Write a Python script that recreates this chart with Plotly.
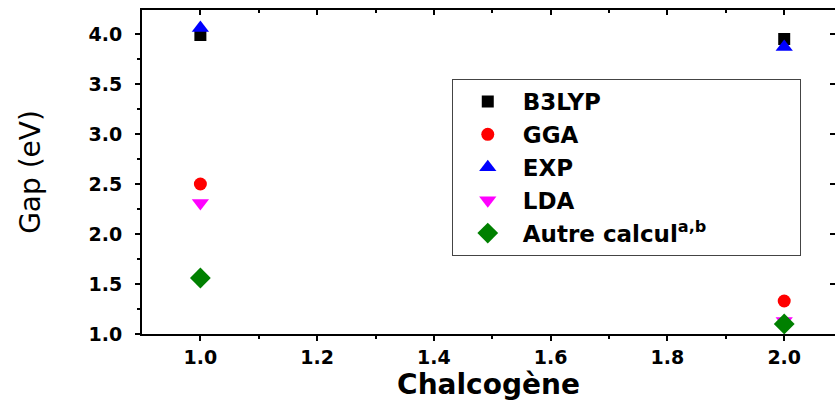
import plotly.graph_objects as go

chalcogene = [1.0, 2.0]
b3lyp = [3.99, 3.95]
gga = [2.50, 1.33]
exp = [4.06, 3.87]
lda = [2.31, 1.13]
autre = [1.56, 1.10]

series = [
    ("B3LYP", b3lyp, "square", "black", 12),
    ("GGA", gga, "circle", "red", 13),
    ("EXP", exp, "triangle-up", "blue", 15),
    ("LDA", lda, "triangle-down", "magenta", 15),
    ("Autre calcul<sup>a,b</sup>" + "&nbsp;" * 11, autre, "diamond", "rgb(0,128,0)", 16),
]

fig = go.Figure()
for name, vals, sym, col, sz in series:
    fig.add_trace(go.Scatter(
        x=chalcogene, y=vals, mode="markers", name=name,
        marker=dict(symbol=sym, color=col, size=sz, line=dict(width=0)),
    ))

# invisible trace so the mirrored top/right axes are drawn
fig.add_trace(go.Scatter(
    x=chalcogene, y=b3lyp, xaxis="x2", yaxis="y2", mode="markers",
    marker=dict(opacity=0), showlegend=False, hoverinfo="skip",
))

XR = [0.9, 2.087]
YR = [1.0, 4.24]
tickfont = dict(family="DejaVu Sans", size=19, color="black", weight="bold")
xt = [1.0, 1.2, 1.4, 1.6, 1.8, 2.0]
xminor = [1.1, 1.3, 1.5, 1.7, 1.9]
yt = [1.0, 1.5, 2.0, 2.5, 3.0, 3.5, 4.0]
yminor = [1.25, 1.75, 2.25, 2.75, 3.25, 3.75]

fig.update_layout(
    width=835, height=403,
    margin=dict(l=142, r=0, t=10, b=69),
    paper_bgcolor="white", plot_bgcolor="white",
    showlegend=True,
    legend=dict(
        x=0.447, y=0.787, xanchor="left", yanchor="top",
        bordercolor="#444", borderwidth=1, bgcolor="white",
        font=dict(family="DejaVu Sans", size=23, color="black", weight="bold"),
        tracegroupgap=0, itemwidth=60,
    ),
    xaxis=dict(
        range=XR, tickmode="array", tickvals=xt,
        ticktext=["1.0", "1.2", "1.4", "1.6", "1.8", "2.0"],
        ticks="outside", ticklen=5, tickwidth=2, tickcolor="black",
        minor=dict(tickvals=xminor, ticks="outside", ticklen=3, tickwidth=2, tickcolor="black"),
        showline=True, linecolor="black", linewidth=2, showgrid=False, zeroline=False,
        tickfont=tickfont,
        title=dict(text="Chalcogène", font=dict(family="DejaVu Sans", size=28, color="black", weight="bold"), standoff=5),
    ),
    xaxis2=dict(
        range=XR, overlaying="x", side="top", matches="x",
        tickmode="array", tickvals=xt,
        ticks="inside", ticklen=5, tickwidth=2, tickcolor="black", showticklabels=False,
        minor=dict(tickvals=xminor, ticks="inside", ticklen=3, tickwidth=2, tickcolor="black"),
        showline=True, linecolor="black", linewidth=1.5, showgrid=False, zeroline=False,
    ),
    yaxis=dict(
        range=YR, tickmode="array", tickvals=yt,
        ticktext=["1.0", "1.5", "2.0", "2.5", "3.0", "3.5", "4.0"],
        ticks="outside", ticklen=5, tickwidth=2, tickcolor="black",
        minor=dict(tickvals=yminor, ticks="outside", ticklen=3, tickwidth=2, tickcolor="black"),
        showline=True, linecolor="black", linewidth=2, showgrid=False, zeroline=False,
        tickfont=tickfont, ticklabelstandoff=9,
        title=dict(text="Gap (eV)", font=dict(family="DejaVu Sans", size=28, color="black"), standoff=40),
    ),
    yaxis2=dict(
        range=YR, overlaying="y", side="right", matches="y",
        tickmode="array", tickvals=yt,
        ticks="inside", ticklen=5, tickwidth=2, tickcolor="black", showticklabels=False,
        showline=True, linecolor="black", linewidth=1.5, showgrid=False, zeroline=False,
    ),
)

fig.write_html("out.html")
